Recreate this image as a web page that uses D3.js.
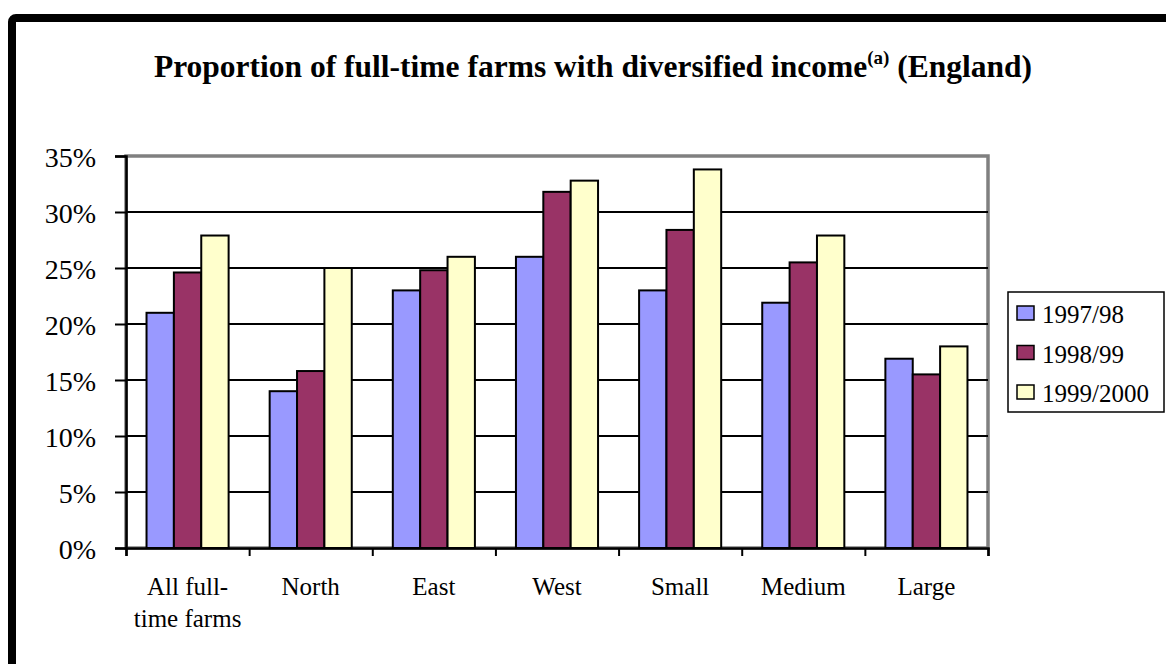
<!DOCTYPE html>
<html>
<head>
<meta charset="utf-8">
<script src="https://cdn.jsdelivr.net/npm/d3@7"></script>
<style>
  body { margin: 0; background: #fff; }
  svg { display: block; font-family: "Liberation Serif", "Times New Roman", serif; }
</style>
</head>
<body>
<script>
const WIDTH = 1166;
const HEIGHT = 664;

var categories = [['All full-', 'time farms'], ['North'], ['East'], ['West'], ['Small'], ['Medium'], ['Large']];
var seriesNames = ['1997/98', '1998/99', '1999/2000'];
var values1997 = [21.0, 14.0, 23.0, 26.0, 23.0, 21.9, 16.9];
var values1998 = [24.6, 15.8, 24.8, 31.8, 28.4, 25.5, 15.5];
var values1999 = [27.9, 25.0, 26.0, 32.8, 33.8, 27.9, 18.0];
var yTicks = [0, 5, 10, 15, 20, 25, 30, 35];
var colors = ['#9999ff', '#993366', '#ffffcc'];

var series = [values1997, values1998, values1999];

var svg = d3.select('body').append('svg')
    .attr('width', WIDTH)
    .attr('height', HEIGHT);

// outer frame
svg.append('rect')
    .attr('x', 12).attr('y', 18)
    .attr('width', 1300).attr('height', 800)
    .attr('rx', 4)
    .attr('fill', 'none')
    .attr('stroke', '#000')
    .attr('stroke-width', 8);

// title
var title = svg.append('text')
    .attr('x', 593)
    .attr('y', 77)
    .attr('text-anchor', 'middle')
    .attr('font-size', 31.5)
    .attr('font-weight', 'bold');
title.append('tspan').text('Proportion of full-time farms with diversified income');
title.append('tspan').attr('font-size', 19).attr('dy', -13).text('(a)');
title.append('tspan').attr('dy', 13).text(' (England)');

var plotLeft = 126, plotRight = 988, plotTop = 156, plotBottom = 548;

var xScale = d3.scaleBand()
    .domain(d3.range(categories.length))
    .range([plotLeft, plotRight])
    .padding(0);
var xInner = d3.scaleBand()
    .domain(d3.range(seriesNames.length))
    .range([0, xScale.bandwidth()])
    .paddingOuter(0.75)
    .paddingInner(0);
var yScale = d3.scaleLinear()
    .domain([0, 35])
    .range([plotBottom, plotTop]);

// plot area border
svg.append('rect')
    .attr('x', plotLeft).attr('y', plotTop)
    .attr('width', plotRight - plotLeft).attr('height', plotBottom - plotTop)
    .attr('fill', '#fff')
    .attr('stroke', '#808080')
    .attr('stroke-width', 3.5);

// gridlines
svg.append('g')
    .selectAll('line')
    .data(yTicks.filter(function (d) { return d > 0 && d < 35; }))
    .enter().append('line')
    .attr('x1', plotLeft).attr('x2', plotRight)
    .attr('y1', function (d) { return yScale(d); })
    .attr('y2', function (d) { return yScale(d); })
    .attr('stroke', '#000')
    .attr('stroke-width', 2);

// bars
var groups = svg.append('g')
    .selectAll('g')
    .data(categories)
    .enter().append('g')
    .attr('transform', function (d, i) { return 'translate(' + xScale(i) + ',0)'; });

groups.selectAll('rect')
    .data(function (d, i) { return series.map(function (s, j) { return { j: j, v: s[i] }; }); })
    .enter().append('rect')
    .attr('x', function (d) { return xInner(d.j); })
    .attr('width', xInner.bandwidth())
    .attr('y', function (d) { return yScale(d.v); })
    .attr('height', function (d) { return plotBottom - yScale(d.v); })
    .attr('fill', function (d) { return colors[d.j]; })
    .attr('stroke', '#000')
    .attr('stroke-width', 2);

// y axis
var yAxis = d3.axisLeft(yScale)
    .tickValues(yTicks)
    .tickSize(11)
    .tickPadding(19)
    .tickFormat(function (d) { return d + '%'; });
var yG = svg.append('g')
    .attr('transform', 'translate(' + plotLeft + ',0)')
    .call(yAxis);
yG.select('.domain').attr('stroke', '#000').attr('stroke-width', 2.5);
yG.selectAll('.tick line').attr('stroke', '#000').attr('stroke-width', 2);
yG.selectAll('.tick text')
    .attr('font-family', '"Liberation Serif", serif')
    .attr('font-size', 28)
    .attr('fill', '#000')
    .attr('dy', '0.36em');

// x axis
var xAxis = d3.axisBottom(d3.scaleLinear().domain([0, categories.length]).range([plotLeft, plotRight]))
    .tickValues(d3.range(categories.length + 1))
    .tickSize(8)
    .tickFormat('');
var xG = svg.append('g')
    .attr('transform', 'translate(0,' + plotBottom + ')')
    .call(xAxis);
xG.select('.domain').attr('stroke', '#000').attr('stroke-width', 2.5);
xG.selectAll('.tick line').attr('stroke', '#000').attr('stroke-width', 2);

// category labels
var labels = svg.append('g')
    .selectAll('text')
    .data(categories)
    .enter().append('text')
    .attr('x', function (d, i) { return xScale(i) + xScale.bandwidth() / 2; })
    .attr('y', 595)
    .attr('text-anchor', 'middle')
    .attr('font-size', 25);
labels.selectAll('tspan')
    .data(function (d) { return d; })
    .enter().append('tspan')
    .attr('x', function () { return d3.select(this.parentNode).attr('x'); })
    .attr('dy', function (d, i) { return i === 0 ? 0 : 32; })
    .text(function (d) { return d; });

// legend
var legend = svg.append('g');
legend.append('rect')
    .attr('x', 1008).attr('y', 292)
    .attr('width', 156).attr('height', 120)
    .attr('fill', '#fff')
    .attr('stroke', '#000')
    .attr('stroke-width', 1.5);
var items = legend.selectAll('g.item')
    .data(seriesNames)
    .enter().append('g')
    .attr('class', 'item')
    .attr('transform', function (d, i) { return 'translate(1017,' + (306 + i * 39.5) + ')'; });
items.append('rect')
    .attr('width', 17).attr('height', 14)
    .attr('fill', function (d, i) { return colors[i]; })
    .attr('stroke', '#000')
    .attr('stroke-width', 1.5);
items.append('text')
    .attr('x', 25).attr('y', 17)
    .attr('font-size', 25)
    .text(function (d) { return d; });
</script>
</body>
</html>
